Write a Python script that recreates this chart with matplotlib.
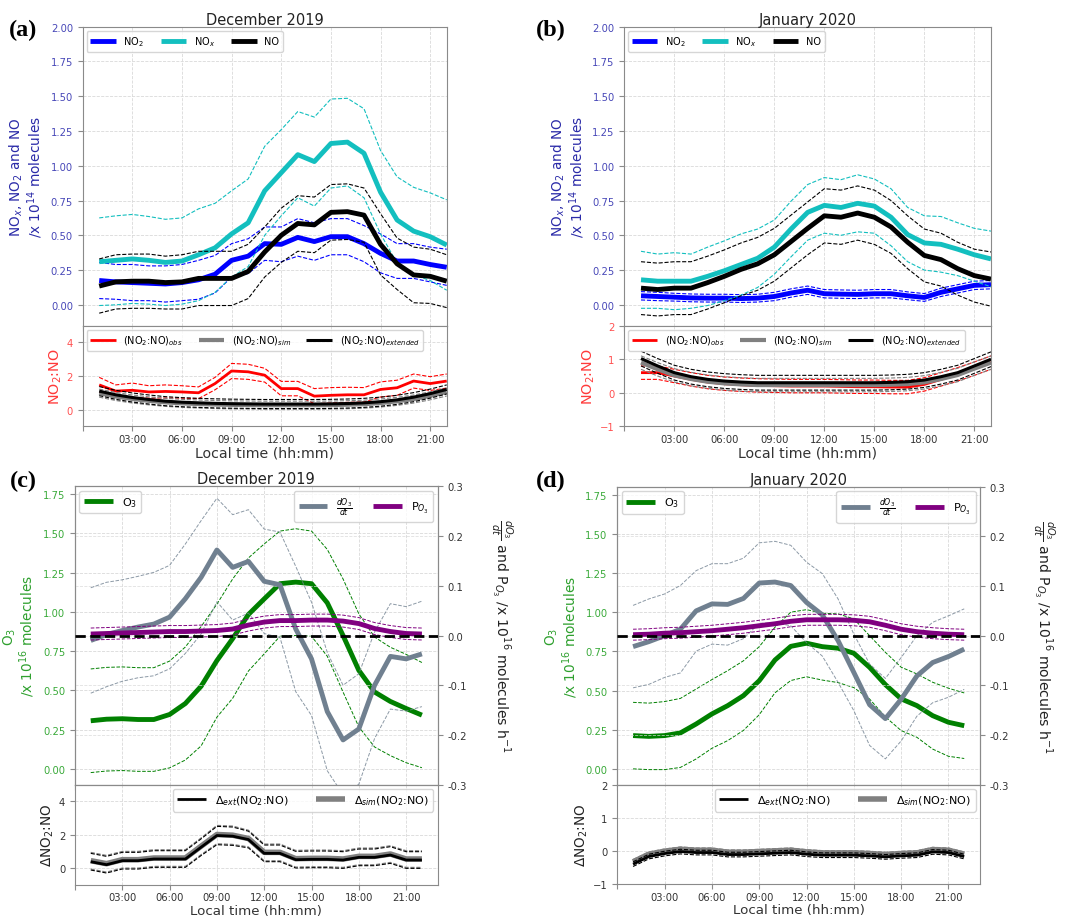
"""
Diurnal NOx / O3 cycles, Dec 2019 vs Jan 2020 (4 panels, each with a ratio strip).
"""
import numpy as np
import matplotlib
matplotlib.use("Agg")
import matplotlib.pyplot as plt
from matplotlib.ticker import MultipleLocator, FormatStrFormatter

# ─── data (hourly means, 01:00 .. 22:00 local) ──────────────────────
HOURS = list(range(1, 23))
XTICKS = [0, 3, 6, 9, 12, 15, 18, 21]
XTICKLABELS = ["", "03:00", "06:00", "09:00", "12:00", "15:00", "18:00", "21:00"]

# (a) December 2019, x 1e14 molecules
dec_no2 = [0.175, 0.165, 0.16, 0.155, 0.15, 0.16, 0.18, 0.22, 0.32, 0.35, 0.44,
           0.435, 0.485, 0.455, 0.49, 0.49, 0.44, 0.37, 0.315, 0.315, 0.29, 0.27]
dec_no2_sd = [0.13, 0.125, 0.13, 0.125, 0.13, 0.13, 0.14, 0.135, 0.12, 0.125, 0.12,
              0.125, 0.135, 0.135, 0.13, 0.13, 0.13, 0.14, 0.125, 0.125, 0.125, 0.13]
dec_nox = [0.31, 0.32, 0.33, 0.32, 0.305, 0.315, 0.36, 0.41, 0.51, 0.59, 0.82,
           0.95, 1.08, 1.03, 1.16, 1.17, 1.09, 0.81, 0.61, 0.53, 0.49, 0.43]
dec_nox_sd = [0.315, 0.32, 0.32, 0.315, 0.31, 0.31, 0.33, 0.32, 0.31, 0.315, 0.32,
              0.31, 0.31, 0.32, 0.32, 0.315, 0.32, 0.30, 0.31, 0.315, 0.315, 0.325]
dec_no = [0.135, 0.165, 0.17, 0.17, 0.16, 0.165, 0.19, 0.19, 0.19, 0.24, 0.38,
          0.50, 0.585, 0.575, 0.665, 0.67, 0.645, 0.435, 0.295, 0.215, 0.205, 0.17]
dec_no_sd = [0.195, 0.195, 0.195, 0.195, 0.19, 0.195, 0.195, 0.195, 0.195, 0.195, 0.18,
             0.195, 0.2, 0.2, 0.2, 0.2, 0.195, 0.22, 0.185, 0.2, 0.195, 0.19]

dec_ratio_obs = [1.47, 1.1, 1.15, 1.05, 1.08, 1.05, 1.0, 1.55, 2.3, 2.25, 2.05,
                 1.25, 1.25, 0.8, 0.85, 0.88, 0.88, 1.2, 1.3, 1.7, 1.55, 1.7]
dec_ratio_obs_sd = [0.45, 0.37, 0.43, 0.37, 0.39, 0.37, 0.35, 0.37, 0.45, 0.45, 0.41,
                    0.43, 0.43, 0.45, 0.46, 0.45, 0.43, 0.45, 0.45, 0.42, 0.41, 0.42]
dec_ratio_sim = [0.98, 0.78, 0.63, 0.52, 0.43, 0.37, 0.33, 0.30, 0.28, 0.27, 0.26,
                 0.26, 0.26, 0.26, 0.27, 0.29, 0.32, 0.39, 0.49, 0.63, 0.82, 1.05]
dec_ratio_sim_sd = [0.24, 0.24, 0.24, 0.24, 0.24, 0.24, 0.24, 0.24, 0.24, 0.24, 0.24,
                    0.24, 0.24, 0.24, 0.24, 0.24, 0.24, 0.24, 0.24, 0.24, 0.24, 0.24]
dec_ratio_ext = [1.1, 0.88, 0.72, 0.6, 0.5, 0.44, 0.4, 0.37, 0.35, 0.34, 0.33,
                 0.33, 0.33, 0.33, 0.34, 0.36, 0.4, 0.47, 0.58, 0.74, 0.95, 1.2]
dec_ratio_ext_sd = [0.27, 0.27, 0.27, 0.27, 0.27, 0.27, 0.27, 0.27, 0.27, 0.27, 0.27,
                    0.27, 0.27, 0.27, 0.27, 0.27, 0.27, 0.27, 0.27, 0.27, 0.27, 0.27]

# (b) January 2020
jan_no2 = [0.065, 0.06, 0.055, 0.05, 0.048, 0.048, 0.045, 0.048, 0.06, 0.085, 0.105,
           0.08, 0.077, 0.075, 0.08, 0.08, 0.065, 0.053, 0.09, 0.115, 0.14, 0.145]
jan_no2_sd = [0.03, 0.03, 0.028, 0.028, 0.028, 0.028, 0.028, 0.028, 0.03, 0.03, 0.03,
              0.03, 0.03, 0.03, 0.03, 0.03, 0.028, 0.028, 0.03, 0.03, 0.03, 0.03]
jan_nox = [0.18, 0.17, 0.17, 0.17, 0.205, 0.245, 0.29, 0.335, 0.415, 0.545, 0.665,
           0.715, 0.70, 0.73, 0.71, 0.63, 0.505, 0.445, 0.435, 0.40, 0.36, 0.33]
jan_nox_sd = [0.205, 0.195, 0.205, 0.195, 0.21, 0.215, 0.22, 0.21, 0.195, 0.2, 0.2,
              0.2, 0.2, 0.205, 0.195, 0.205, 0.195, 0.195, 0.2, 0.19, 0.19, 0.2]
jan_no = [0.12, 0.11, 0.12, 0.12, 0.16, 0.205, 0.255, 0.295, 0.36, 0.455, 0.55,
          0.64, 0.63, 0.66, 0.63, 0.56, 0.45, 0.355, 0.325, 0.26, 0.21, 0.185]
jan_no_sd = [0.19, 0.19, 0.19, 0.19, 0.19, 0.19, 0.19, 0.19, 0.19, 0.19, 0.19,
             0.195, 0.195, 0.195, 0.195, 0.19, 0.19, 0.19, 0.19, 0.19, 0.19, 0.195]

jan_ratio_obs = [0.6, 0.6, 0.5, 0.4, 0.32, 0.27, 0.24, 0.22, 0.21, 0.2, 0.2,
                 0.2, 0.19, 0.18, 0.18, 0.17, 0.17, 0.25, 0.4, 0.55, 0.72, 0.9]
jan_ratio_obs_sd = [0.2, 0.2, 0.2, 0.2, 0.2, 0.2, 0.2, 0.2, 0.2, 0.2, 0.2,
                    0.2, 0.2, 0.2, 0.2, 0.2, 0.2, 0.2, 0.2, 0.2, 0.2, 0.2]
jan_ratio_sim = [0.9, 0.7, 0.52, 0.41, 0.33, 0.28, 0.25, 0.23, 0.23, 0.23, 0.23,
                 0.23, 0.23, 0.23, 0.23, 0.24, 0.26, 0.31, 0.41, 0.53, 0.72, 0.9]
jan_ratio_sim_sd = [0.2, 0.2, 0.2, 0.2, 0.2, 0.2, 0.2, 0.2, 0.2, 0.2, 0.2,
                    0.2, 0.2, 0.2, 0.2, 0.2, 0.2, 0.2, 0.2, 0.2, 0.2, 0.2]
jan_ratio_ext = [1.02, 0.8, 0.6, 0.48, 0.4, 0.35, 0.32, 0.3, 0.3, 0.3, 0.3,
                 0.3, 0.3, 0.3, 0.3, 0.31, 0.33, 0.38, 0.48, 0.6, 0.8, 1.0]
jan_ratio_ext_sd = [0.22, 0.22, 0.22, 0.22, 0.22, 0.22, 0.22, 0.22, 0.22, 0.22, 0.22,
                    0.22, 0.22, 0.22, 0.22, 0.22, 0.22, 0.22, 0.22, 0.22, 0.22, 0.22]

# (c) December 2019 ozone, x 1e16 molecules (rates per hour)
dec_o3 = [0.307, 0.317, 0.32, 0.315, 0.315, 0.347, 0.417, 0.527, 0.69, 0.83, 0.984,
          1.083, 1.18, 1.19, 1.18, 1.058, 0.85, 0.628, 0.49, 0.43, 0.385, 0.343]
dec_o3_sd = [0.33, 0.33, 0.33, 0.33, 0.33, 0.34, 0.36, 0.38, 0.36, 0.38, 0.36,
             0.35, 0.335, 0.34, 0.335, 0.34, 0.36, 0.36, 0.35, 0.345, 0.345, 0.335]
dec_do3 = [-0.01, 0.002, 0.01, 0.017, 0.023, 0.037, 0.074, 0.117, 0.172, 0.137, 0.149,
           0.109, 0.102, 0.013, -0.047, -0.153, -0.21, -0.188, -0.1, -0.042, -0.047, -0.037]
dec_do3_sd = [0.106, 0.105, 0.102, 0.102, 0.104, 0.104, 0.11, 0.114, 0.104, 0.106, 0.104,
              0.105, 0.106, 0.126, 0.114, 0.119, 0.11, 0.111, 0.107, 0.106, 0.105, 0.106]
dec_po3 = [0.003, 0.004, 0.005, 0.006, 0.007, 0.008, 0.008, 0.009, 0.01, 0.013, 0.021,
           0.027, 0.03, 0.03, 0.031, 0.031, 0.029, 0.024, 0.014, 0.008, 0.004, 0.003]
dec_po3_sd = [0.012, 0.012, 0.012, 0.012, 0.012, 0.012, 0.012, 0.012, 0.012, 0.012, 0.012,
              0.012, 0.012, 0.012, 0.012, 0.012, 0.012, 0.012, 0.012, 0.012, 0.012, 0.012]
dec_dratio_ext = [0.38, 0.2, 0.44, 0.44, 0.54, 0.54, 0.54, 1.25, 1.95, 1.91, 1.71,
                  0.88, 0.88, 0.5, 0.52, 0.52, 0.48, 0.64, 0.64, 0.78, 0.48, 0.48]
dec_dratio_sim = [0.44, 0.26, 0.5, 0.5, 0.6, 0.6, 0.6, 1.31, 2.01, 1.97, 1.77,
                  0.94, 0.94, 0.56, 0.58, 0.58, 0.54, 0.7, 0.7, 0.84, 0.54, 0.54]
dec_dratio_sd = [0.5, 0.5, 0.5, 0.5, 0.5, 0.5, 0.5, 0.5, 0.55, 0.55, 0.5,
                 0.5, 0.5, 0.5, 0.5, 0.5, 0.5, 0.5, 0.5, 0.5, 0.5, 0.5]

# (d) January 2020 ozone
jan_o3 = [0.213, 0.208, 0.213, 0.23, 0.287, 0.351, 0.404, 0.468, 0.563, 0.695, 0.782,
          0.802, 0.78, 0.77, 0.738, 0.648, 0.538, 0.447, 0.404, 0.34, 0.298, 0.276]
jan_o3_sd = [0.212, 0.212, 0.217, 0.22, 0.223, 0.219, 0.223, 0.222, 0.217, 0.209, 0.218,
             0.214, 0.213, 0.219, 0.219, 0.202, 0.206, 0.202, 0.202, 0.213, 0.217, 0.209]
jan_do3 = [-0.022, -0.012, 0.0, 0.013, 0.05, 0.064, 0.063, 0.075, 0.106, 0.108, 0.101,
           0.067, 0.042, -0.01, -0.074, -0.139, -0.167, -0.128, -0.081, -0.054, -0.042, -0.027]
jan_do3_sd = [0.083, 0.086, 0.084, 0.088, 0.081, 0.081, 0.082, 0.081, 0.081, 0.082, 0.081,
              0.081, 0.083, 0.084, 0.077, 0.082, 0.081, 0.084, 0.081, 0.081, 0.082, 0.081]
jan_po3 = [0.002, 0.003, 0.005, 0.006, 0.008, 0.01, 0.013, 0.016, 0.02, 0.024, 0.029,
           0.032, 0.032, 0.032, 0.031, 0.028, 0.021, 0.013, 0.008, 0.005, 0.003, 0.002]
jan_po3_sd = [0.011, 0.011, 0.011, 0.011, 0.011, 0.011, 0.011, 0.011, 0.011, 0.011, 0.011,
              0.011, 0.011, 0.011, 0.011, 0.011, 0.011, 0.011, 0.011, 0.011, 0.011, 0.011]
jan_dratio_ext = [-0.4, -0.17, -0.08, -0.02, -0.05, -0.05, -0.11, -0.11, -0.09, -0.07, -0.05,
                  -0.1, -0.13, -0.13, -0.13, -0.15, -0.18, -0.15, -0.13, -0.03, -0.05, -0.17]
jan_dratio_sim = [-0.33, -0.1, -0.01, 0.05, 0.02, 0.02, -0.04, -0.04, -0.02, 0.0, 0.02,
                  -0.03, -0.06, -0.06, -0.06, -0.08, -0.11, -0.08, -0.06, 0.04, 0.02, -0.1]
jan_dratio_sd = [0.07, 0.07, 0.07, 0.07, 0.07, 0.07, 0.07, 0.07, 0.07, 0.07, 0.07,
                 0.07, 0.07, 0.07, 0.07, 0.07, 0.07, 0.07, 0.07, 0.07, 0.07, 0.07]

# ─── palette ────────────────────────────────────────────────────────
CLR_NO2 = "blue"
CLR_NOX = "#13bfbf"
CLR_NO = "black"
CLR_OBS = "red"
CLR_SIM = "grey"
CLR_O3 = "green"
CLR_DO3 = "slategray"
CLR_PO3 = "purple"
CLR_SPINE = "#8a8a8a"
CLR_GRID = "#d9d9d9"
BLUE_LBL, BLUE_TICK = "#2a2aa8", "#4848b8"
RED_LBL, RED_TICK = "#ff3a3a", "#ff5050"
GREEN_LBL, GREEN_TICK = "#2ea02e", "#3aaa3a"

FS_TICK, FS_LBL, FS_LEG, FS_TITLE = 7.2, 9.8, 7, 10.5


def band(ax, mean, sd, color, lw, label=None, dlw=0.8, dalpha=1.0, z=2):
    m, s = np.asarray(mean), np.asarray(sd)
    ax.plot(HOURS, m, color=color, lw=lw, label=label, zorder=z,
            solid_capstyle="butt")
    ax.plot(HOURS, m + s, color=color, lw=dlw, ls="--", alpha=dalpha, zorder=z)
    ax.plot(HOURS, m - s, color=color, lw=dlw, ls="--", alpha=dalpha, zorder=z)


def frame(ax, tickcolor):
    for sp in ax.spines.values():
        sp.set_color(CLR_SPINE)
    ax.tick_params(colors=CLR_SPINE, labelsize=FS_TICK, length=3.5, width=0.8)
    ax.tick_params(axis="y", labelcolor=tickcolor)
    ax.tick_params(axis="x", labelcolor="#333333", pad=2)
    ax.grid(True, ls="--", lw=0.6, color=CLR_GRID)


def xaxis(ax_top, ax_bot, xmax, xlabel_fs):
    for ax in (ax_top, ax_bot):
        ax.set_xlim(0, xmax)
        ax.set_xticks(XTICKS)
    ax_top.set_xticklabels([])
    ax_bot.set_xticklabels(XTICKLABELS)
    ax_bot.set_xlabel("Local time (hh:mm)", fontsize=xlabel_fs, color="#333333",
                      labelpad=1)


def nox_panel(fig, rect_top, rect_bot, title, no2, no2_sd, nox, nox_sd, no, no_sd,
              obs, obs_sd, sim, sim_sd, ext, ext_sd, rlim, rstep):
    ax = fig.add_axes(rect_top)
    axr = fig.add_axes(rect_bot)
    frame(ax, BLUE_TICK)
    frame(axr, RED_TICK)

    band(ax, no2, no2_sd, CLR_NO2, 3.5, r"NO$_2$")
    band(ax, nox, nox_sd, CLR_NOX, 3.5, r"NO$_x$")
    band(ax, no, no_sd, CLR_NO, 3.5, "NO")
    ax.set_ylim(-0.15, 2.0)
    ax.yaxis.set_major_locator(MultipleLocator(0.25))
    ax.yaxis.set_major_formatter(FormatStrFormatter("%.2f"))
    ax.set_ylabel("NO$_x$, NO$_2$ and NO\n/x 10$^{14}$ molecules",
                  fontsize=FS_LBL, color=BLUE_LBL, linespacing=1.0)
    ax.set_title(title, fontsize=FS_TITLE, pad=2, color="#222222")
    ax.legend(loc="upper left", ncol=3, fontsize=FS_LEG, columnspacing=1.7,
              handlelength=2.6, borderaxespad=0.4)

    band(axr, obs, obs_sd, CLR_OBS, 2.0, r"(NO$_2$:NO)$_{obs}$", z=2)
    band(axr, sim, sim_sd, CLR_SIM, 3.0, r"(NO$_2$:NO)$_{sim}$", z=3)
    band(axr, ext, ext_sd, CLR_NO, 2.2, r"(NO$_2$:NO)$_{extended}$", z=4)
    axr.set_ylim(*rlim)
    axr.yaxis.set_major_locator(MultipleLocator(rstep))
    axr.set_ylabel("NO$_2$:NO", fontsize=FS_LBL + 0.5, color=RED_LBL, labelpad=2)
    axr.legend(loc="upper left", ncol=3, fontsize=FS_LEG, columnspacing=1.6,
               handlelength=2.6, borderaxespad=0.4)
    xaxis(ax, axr, 22, 10.2)


def o3_panel(fig, rect_top, rect_bot, title, o3, o3_sd, do3, do3_sd, po3, po3_sd,
             dext, dsim, dsd, dlim, dstep):
    ax = fig.add_axes(rect_top)
    axd = fig.add_axes(rect_bot)
    frame(ax, GREEN_TICK)
    frame(axd, "#333333")
    tw = ax.twinx()
    frame(tw, "#333333")
    tw.grid(True, ls="--", lw=0.6, color=CLR_GRID, alpha=0.8)

    band(ax, o3, o3_sd, CLR_O3, 3.5, r"O$_3$", dlw=0.7)
    ax.set_ylim(-0.1, 1.8)
    ax.yaxis.set_major_locator(MultipleLocator(0.25))
    ax.yaxis.set_major_formatter(FormatStrFormatter("%.2f"))
    ax.set_ylabel("O$_3$\n/x 10$^{16}$ molecules", fontsize=FS_LBL,
                  color=GREEN_LBL, linespacing=1.0)
    ax.set_title(title, fontsize=FS_TITLE, pad=2, color="#222222")
    ax.legend(loc="upper left", fontsize=FS_LEG + 1, handlelength=2.6,
              borderaxespad=0.4)

    band(tw, do3, do3_sd, CLR_DO3, 3.5, r"$\frac{dO_3}{dt}$", dlw=0.7, dalpha=0.8)
    band(tw, po3, po3_sd, CLR_PO3, 3.5, r"P$_{O_3}$", dlw=0.7)
    tw.axhline(0, color="black", lw=2, ls="--", zorder=5)
    tw.set_ylim(-0.3, 0.3)
    tw.yaxis.set_major_locator(MultipleLocator(0.1))
    tw.yaxis.set_major_formatter(FormatStrFormatter("%.1f"))
    tw.set_ylabel(r"$\frac{dO_3}{dt}$ and P$_{O_3}$ /x 10$^{16}$ molecules h$^{-1}$",
                  fontsize=FS_LBL + 0.3, color="#222222", rotation=270, labelpad=34)
    tw.legend(loc="upper right", ncol=2, fontsize=FS_LEG + 1, handlelength=2.6,
              columnspacing=1.8, borderaxespad=0.4)

    band(axd, dsim, dsd, CLR_SIM, 4.0, r"$\Delta_{sim}$(NO$_2$:NO)", z=2)
    band(axd, dext, dsd, CLR_NO, 2.0, r"$\Delta_{ext}$(NO$_2$:NO)", z=3)
    axd.set_ylim(*dlim)
    axd.yaxis.set_major_locator(MultipleLocator(dstep))
    axd.set_ylabel(r"$\Delta$NO$_2$:NO", fontsize=FS_LBL, color="#222222", labelpad=2)
    h, l = axd.get_legend_handles_labels()
    axd.legend(h[::-1], l[::-1], loc="upper right", ncol=2, fontsize=FS_LEG + 1,
               handlelength=2.6, columnspacing=2.5, borderaxespad=0.4)
    xaxis(ax, axd, 23, 9.6)
    tw.set_xlim(0, 23)


def render():
    fig = plt.figure(figsize=(10.68, 9.2), dpi=100)

    nox_panel(fig, [0.0774, 0.6449, 0.3409, 0.3250], [0.0774, 0.5355, 0.3409, 0.1094],
              "December 2019", dec_no2, dec_no2_sd, dec_nox, dec_nox_sd, dec_no, dec_no_sd,
              dec_ratio_obs, dec_ratio_obs_sd, dec_ratio_sim, dec_ratio_sim_sd,
              dec_ratio_ext, dec_ratio_ext_sd, (-1, 5), 2)
    nox_panel(fig, [0.5846, 0.6449, 0.3433, 0.3250], [0.5846, 0.5355, 0.3433, 0.1094],
              "January 2020", jan_no2, jan_no2_sd, jan_nox, jan_nox_sd, jan_no, jan_no_sd,
              jan_ratio_obs, jan_ratio_obs_sd, jan_ratio_sim, jan_ratio_sim_sd,
              jan_ratio_ext, jan_ratio_ext_sd, (-1, 2), 1)
    o3_panel(fig, [0.0702, 0.1460, 0.3396, 0.3243], [0.0702, 0.0373, 0.3396, 0.1087],
             "December 2019", dec_o3, dec_o3_sd, dec_do3, dec_do3_sd, dec_po3, dec_po3_sd,
             dec_dratio_ext, dec_dratio_sim, dec_dratio_sd, (-1, 5), 2)
    o3_panel(fig, [0.5780, 0.1460, 0.3396, 0.3239], [0.5780, 0.0380, 0.3396, 0.1080],
             "January 2020", jan_o3, jan_o3_sd, jan_do3, jan_do3_sd, jan_po3, jan_po3_sd,
             jan_dratio_ext, jan_dratio_sim, jan_dratio_sd, (-1, 2), 1)

    for x, y, s in [(0.008, 0.967, "(a)"), (0.502, 0.967, "(b)"),
                    (0.009, 0.477, "(c)"), (0.502, 0.477, "(d)")]:
        fig.text(x, y, s, fontsize=17.5, fontweight="bold", va="center", ha="left",
                 family=["Liberation Serif", "DejaVu Serif"])

    fig.savefig("out.png", dpi=100, facecolor="white")


if __name__ == "__main__":
    render()
